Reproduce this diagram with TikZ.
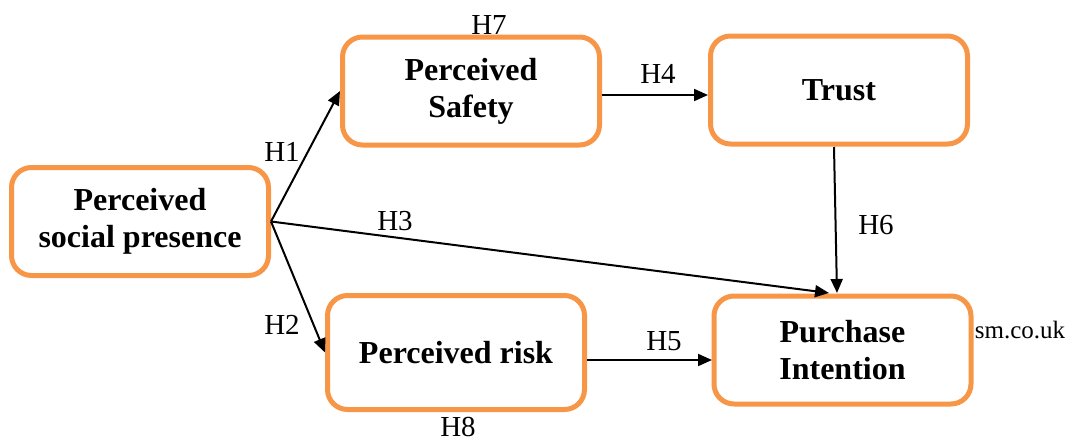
\documentclass[tikz,border=0pt]{standalone}
\usepackage{fontspec}
\setmainfont{Liberation Serif}
\usetikzlibrary{arrows.meta,calc}
\definecolor{boxorange}{RGB}{247,150,70}
\begin{document}
\begin{tikzpicture}[x=1pt,y=-1pt,
  box/.style={draw=boxorange,line width=5pt,rounded corners=20pt,fill=white,
    minimum width=257pt,minimum height=108pt,align=center,inner sep=0pt,
    font=\fontsize{32}{37}\selectfont\bfseries},
  conn/.style={line width=2pt,-{Triangle[length=14pt,width=12pt]}},
  hlab/.style={font=\fontsize{29}{30}\selectfont,inner sep=0pt}]
\useasboundingbox (0,0) rectangle (1077,442);
\node[box] (psp) at (140,221.5) {Perceived\\social presence};
\node[box] (saf) at (471,91) {Perceived\\Safety};
\node[box] (tru) at (839,90) {Trust};
\node[box] (pur) at (842.5,350) {Purchase\\Intention};
\node[box,minimum height=114pt] (ris) at (456,352.5) {Perceived risk};
\coordinate (h4s) at (602,95);
\coordinate (h4e) at (708,95);
\coordinate (h5s) at (587,360);
\coordinate (h5e) at (712,360);
\coordinate (h3e) at (829,293);
\coordinate (h6s) at (834,147);
\coordinate (h6e) at (837,293);
\draw[conn] (psp.east) -- (saf.west);
\draw[conn] (psp.east) -- (ris.west);
\draw[conn] (psp.east) -- (h3e);
\draw[conn] (h4s) -- (h4e);
\draw[conn] (h5s) -- (h5e);
\draw[conn] (h6s) -- (h6e);
\node[hlab] (l7) at (489,25) {H7};
\node[hlab] (l1) at (282,152) {H1};
\node[hlab] (l3) at (395,221) {H3};
\node[hlab] (l4) at (658,74) {H4};
\node[hlab] (l6) at (876,225) {H6};
\node[hlab] (l2) at (282,325) {H2};
\node[hlab] (l5) at (664,341) {H5};
\node[hlab] (l8) at (458,427) {H8};
\node[font=\fontsize{25}{27}\selectfont,inner sep=0pt] (web) at (1020,330) {sm.co.uk};
\end{tikzpicture}
\end{document}
